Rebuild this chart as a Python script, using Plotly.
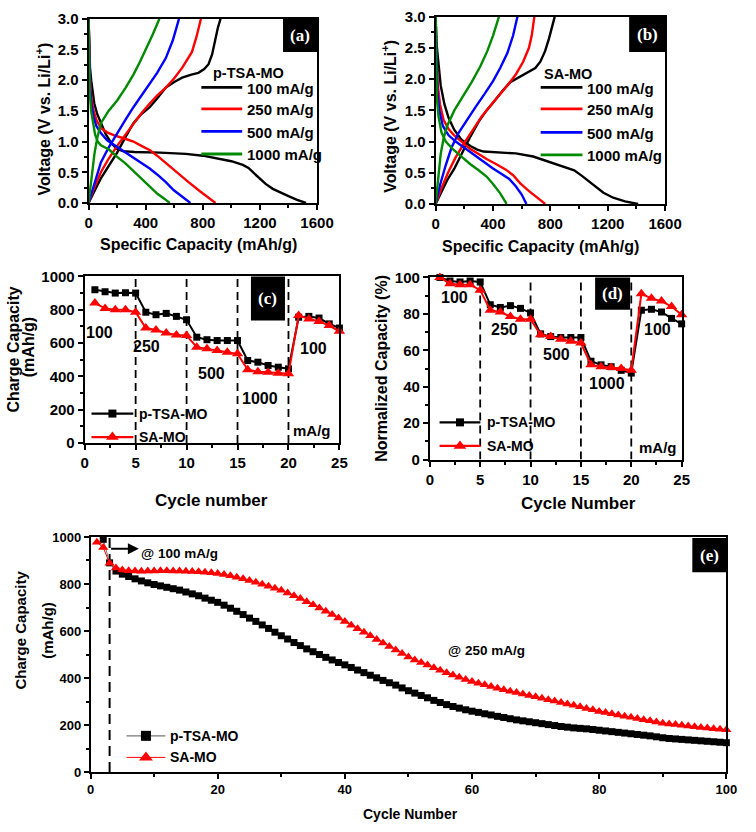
import plotly.graph_objects as go

W, H = 756, 832
def PX(x): return x / W
def PY(y): return 1 - y / H

FONT = "Liberation Sans, Arial, Helvetica, sans-serif"
SERIF = "Liberation Serif, Times New Roman, serif"

# ---------------- data ----------------
rate_labels = ["100 mA/g", "250 mA/g", "500 mA/g", "1000 mA/g"]

# panel (a) p-TSA-MO : discharge / charge profiles (capacity mAh/g, voltage V)
a_dis_100_cap = [0, 4, 10, 18, 28, 40, 60, 86, 120, 160, 200, 240, 320, 500, 680, 800, 900, 1000, 1080, 1120, 1160, 1200, 1240, 1290, 1340, 1400, 1460, 1523]
a_dis_100_v   = [3.0, 2.6, 2.2, 2.0, 1.8, 1.62, 1.45, 1.30, 1.12, 0.97, 0.88, 0.845, 0.83, 0.82, 0.80, 0.77, 0.73, 0.68, 0.62, 0.57, 0.48, 0.39, 0.31, 0.23, 0.17, 0.11, 0.05, 0.0]
a_ch_100_cap  = [0, 30, 60, 86, 140, 200, 260, 314, 370, 428, 480, 541, 600, 655, 720, 769, 810, 840, 865, 883, 905, 924]
a_ch_100_v    = [0.0, 0.15, 0.28, 0.40, 0.60, 0.82, 1.08, 1.30, 1.45, 1.56, 1.70, 1.88, 1.97, 2.04, 2.09, 2.12, 2.18, 2.26, 2.42, 2.62, 2.85, 3.0]

a_dis_250_cap = [0, 4, 10, 20, 35, 55, 86, 130, 180, 250, 314, 370, 430, 480, 530, 590, 640, 700, 780, 830, 889]
a_dis_250_v   = [3.0, 2.5, 2.0, 1.7, 1.5, 1.35, 1.22, 1.15, 1.10, 1.05, 1.00, 0.93, 0.86, 0.77, 0.67, 0.55, 0.45, 0.34, 0.19, 0.10, 0.0]
a_ch_250_cap  = [0, 40, 86, 140, 200, 260, 314, 370, 428, 480, 541, 600, 655, 700, 724, 755, 787]
a_ch_250_v    = [0.0, 0.25, 0.50, 0.72, 0.93, 1.12, 1.30, 1.46, 1.62, 1.75, 1.88, 2.03, 2.20, 2.36, 2.46, 2.70, 3.0]

a_dis_500_cap = [0, 4, 10, 20, 35, 55, 86, 130, 188, 250, 314, 369, 428, 482, 541, 595, 655, 713]
a_dis_500_v   = [3.0, 2.4, 1.9, 1.6, 1.4, 1.25, 1.14, 1.02, 0.93, 0.84, 0.74, 0.66, 0.56, 0.46, 0.34, 0.21, 0.10, 0.0]
a_ch_500_cap  = [0, 40, 86, 140, 200, 260, 314, 370, 428, 480, 541, 590, 633]
a_ch_500_v    = [0.0, 0.32, 0.66, 0.90, 1.14, 1.36, 1.56, 1.75, 1.93, 2.12, 2.36, 2.65, 3.0]

a_dis_1000_cap = [0, 3, 8, 18, 30, 45, 64, 86, 143, 200, 256, 314, 369, 428, 482, 530, 568]
a_dis_1000_v   = [3.0, 2.3, 1.8, 1.5, 1.3, 1.12, 1.0, 0.94, 0.87, 0.75, 0.65, 0.52, 0.41, 0.28, 0.15, 0.07, 0.0]
a_ch_1000_cap  = [0, 20, 41, 60, 86, 140, 200, 260, 314, 360, 405, 450, 496]
a_ch_1000_v    = [0.0, 0.4, 0.8, 1.05, 1.30, 1.50, 1.67, 1.88, 2.09, 2.30, 2.52, 2.75, 3.0]

# panel (b) SA-MO
b_dis_100_cap = [0, 5, 16, 35, 61, 90, 129, 180, 242, 290, 333, 450, 559, 680, 785, 880, 966, 1020, 1102, 1170, 1238, 1320, 1412]
b_dis_100_v   = [3.0, 2.6, 2.34, 1.9, 1.6, 1.38, 1.19, 1.03, 0.93, 0.87, 0.84, 0.82, 0.81, 0.76, 0.68, 0.60, 0.54, 0.45, 0.30, 0.18, 0.10, 0.04, 0.0]
b_ch_100_cap  = [0, 40, 80, 129, 180, 242, 300, 355, 410, 468, 520, 582, 640, 695, 730, 763, 790, 808, 830]
b_ch_100_v    = [0.0, 0.2, 0.38, 0.56, 0.80, 1.08, 1.32, 1.50, 1.65, 1.82, 1.95, 2.03, 2.10, 2.18, 2.28, 2.45, 2.65, 2.81, 3.0]

b_dis_250_cap = [0, 5, 15, 30, 55, 90, 129, 180, 242, 300, 355, 420, 490, 540, 590, 649, 700, 764]
b_dis_250_v   = [3.0, 2.4, 1.9, 1.6, 1.35, 1.2, 1.1, 1.0, 0.88, 0.80, 0.72, 0.64, 0.55, 0.46, 0.33, 0.21, 0.11, 0.0]
b_ch_250_cap  = [0, 40, 86, 140, 200, 260, 320, 380, 440, 500, 560, 610, 650, 670, 688]
b_ch_250_v    = [0.0, 0.25, 0.50, 0.75, 0.98, 1.2, 1.4, 1.57, 1.73, 1.9, 2.08, 2.28, 2.5, 2.7, 3.0]

b_dis_500_cap = [0, 4, 12, 25, 50, 90, 140, 200, 260, 330, 400, 460, 513, 560, 600, 633]
b_dis_500_v   = [3.0, 2.3, 1.8, 1.5, 1.25, 1.1, 1.0, 0.90, 0.80, 0.68, 0.57, 0.48, 0.40, 0.28, 0.15, 0.0]
b_ch_500_cap  = [0, 30, 70, 110, 160, 220, 280, 340, 400, 450, 500, 540, 570]
b_ch_500_v    = [0.0, 0.3, 0.62, 0.9, 1.14, 1.36, 1.56, 1.76, 1.97, 2.18, 2.42, 2.7, 3.0]

b_dis_1000_cap = [0, 3, 8, 20, 40, 70, 120, 180, 240, 300, 355, 400, 450, 495]
b_dis_1000_v   = [3.0, 2.2, 1.7, 1.4, 1.15, 1.0, 0.88, 0.76, 0.64, 0.54, 0.44, 0.32, 0.17, 0.0]
b_ch_1000_cap  = [0, 15, 35, 55, 80, 130, 190, 250, 310, 360, 400, 441]
b_ch_1000_v    = [0.0, 0.4, 0.8, 1.05, 1.25, 1.5, 1.72, 1.95, 2.2, 2.45, 2.7, 3.0]

# panels (c), (d): rate capability
cycles_rate = [1, 2, 3, 4, 5, 6, 7, 8, 9, 10, 11, 12, 13, 14, 15, 16, 17, 18, 19, 20, 21, 22, 23, 24, 25]
c_ptsa = [920, 908, 900, 902, 900, 785, 770, 778, 760, 740, 635, 620, 615, 615, 615, 495, 485, 465, 455, 445, 755, 760, 750, 715, 690]
c_sa   = [840, 808, 800, 800, 785, 690, 678, 660, 648, 645, 575, 565, 555, 545, 535, 440, 428, 425, 418, 415, 765, 745, 730, 705, 670]
d_ptsa = [100, 98, 97.5, 98, 97.5, 85, 83.5, 84.5, 83, 80.5, 69, 67.5, 67, 67, 67, 54, 52, 51, 49, 47.5, 82, 82.5, 81, 77.5, 74.5]
d_sa   = [100, 96.5, 96, 96, 93, 82, 81, 78.5, 77, 77, 68.5, 67.5, 66, 65, 64, 52, 51, 50.5, 50, 49, 91, 88.5, 87, 84, 79.5]
rate_change_cycles = [5, 10, 15, 20]
rate_step_labels = ["100", "250", "500", "1000", "100"]

# panel (e): long cycling
e_ptsa_cycles = list(range(2, 101))
e_ptsa = [990, 890, 855, 842, 832, 822, 813, 805, 798, 792, 786, 780, 774, 766, 758, 750, 740, 731, 722,
          710, 697, 684, 670, 655, 641, 626, 611, 595, 580, 566, 551, 538, 524, 512, 500, 488, 477, 466, 456,
          445, 434, 423, 412, 401, 390, 380, 370, 358, 346, 336, 326, 316, 305, 296, 287, 279, 272, 265, 259,
          254, 248, 243, 237, 232, 227, 222, 218, 214, 210, 206, 202, 198, 194, 191, 188, 186, 184, 181, 178,
          175, 172, 169, 166, 163, 160, 157, 154, 150, 146, 143, 141, 139, 137, 135, 133, 131, 129, 127, 125]
e_sa_cycles = list(range(1, 101))
e_sa = [978, 955, 888, 868, 860, 856, 855, 854, 855, 855, 856, 856, 855, 855, 854, 853, 852, 850, 848, 845,
        840, 835, 829, 822, 815, 807, 799, 791, 782, 773, 762, 750, 738, 725, 712, 698, 684, 670, 655, 640,
        625, 610, 595, 580, 564, 549, 534, 519, 504, 489, 477, 466, 455, 444, 433, 423, 413, 403, 394, 385,
        378, 371, 364, 357, 350, 344, 338, 332, 326, 320, 314, 308, 302, 296, 290, 284, 278, 271, 265, 258,
        253, 248, 243, 238, 233, 228, 223, 218, 213, 208, 205, 202, 199, 196, 193, 190, 187, 184, 182, 180]
e_dash_cycle = 3

# ---------------- figure ----------------
colors4 = ["#000000", "#ff0000", "#0000ff", "#008a00"]
fig = go.Figure()

def add_profiles(xa, ya, sets):
    for (dc, dv, cc, cv), col in zip(sets, colors4):
        fig.add_trace(go.Scatter(x=dc + [None] + cc, y=dv + [None] + cv, mode="lines",
                                 line=dict(color=col, width=2.4), xaxis=xa, yaxis=ya,
                                 showlegend=False, hoverinfo="skip"))

add_profiles("x", "y", [(a_dis_100_cap, a_dis_100_v, a_ch_100_cap, a_ch_100_v),
                        (a_dis_250_cap, a_dis_250_v, a_ch_250_cap, a_ch_250_v),
                        (a_dis_500_cap, a_dis_500_v, a_ch_500_cap, a_ch_500_v),
                        (a_dis_1000_cap, a_dis_1000_v, a_ch_1000_cap, a_ch_1000_v)])
add_profiles("x2", "y2", [(b_dis_100_cap, b_dis_100_v, b_ch_100_cap, b_ch_100_v),
                          (b_dis_250_cap, b_dis_250_v, b_ch_250_cap, b_ch_250_v),
                          (b_dis_500_cap, b_dis_500_v, b_ch_500_cap, b_ch_500_v),
                          (b_dis_1000_cap, b_dis_1000_v, b_ch_1000_cap, b_ch_1000_v)])

for xa, ya, yb, ys in [("x3", "y3", c_ptsa, c_sa), ("x4", "y4", d_ptsa, d_sa)]:
    fig.add_trace(go.Scatter(x=cycles_rate, y=yb, mode="lines+markers", xaxis=xa, yaxis=ya,
                             line=dict(color="black", width=2), marker=dict(symbol="square", size=7, color="black"),
                             cliponaxis=False, showlegend=False))
    fig.add_trace(go.Scatter(x=cycles_rate, y=ys, mode="lines+markers", xaxis=xa, yaxis=ya,
                             line=dict(color="red", width=2), marker=dict(symbol="triangle-up", size=10, color="red"),
                             cliponaxis=False, showlegend=False))

fig.add_trace(go.Scatter(x=e_ptsa_cycles, y=e_ptsa, mode="lines+markers", xaxis="x5", yaxis="y5",
                         line=dict(color="#777777", width=1), marker=dict(symbol="square", size=7, color="black"),
                         cliponaxis=False, showlegend=False))
fig.add_trace(go.Scatter(x=e_sa_cycles, y=e_sa, mode="lines+markers", xaxis="x5", yaxis="y5",
                         line=dict(color="red", width=1), marker=dict(symbol="triangle-up", size=9, color="red"),
                         cliponaxis=False, showlegend=False))

# legend samples (overlay pixel axis)
def leg_sample(x0, x1, y, lcol, lw, sym, msize, mcol):
    fig.add_trace(go.Scatter(x=[x0, x1], y=[y, y], mode="lines", line=dict(color=lcol, width=lw),
                             xaxis="x6", yaxis="y6", showlegend=False, hoverinfo="skip"))
    fig.add_trace(go.Scatter(x=[(x0 + x1) / 2], y=[y], mode="markers",
                             marker=dict(symbol=sym, size=msize, color=mcol),
                             xaxis="x6", yaxis="y6", showlegend=False, hoverinfo="skip", cliponaxis=False))

leg_sample(90, 133, 413, "black", 2.2, "square", 8, "black")
leg_sample(90, 133, 437, "red", 2.2, "triangle-up", 11, "red")
leg_sample(448, 490, 422, "black", 2.2, "square", 8, "black")
leg_sample(448, 490, 446, "red", 2.2, "triangle-up", 11, "red")
leg_sample(126, 166, 742, "#777777", 1.2, "square", 10, "black")
leg_sample(126, 166, 764, "red", 1, "triangle-up", 12, "red")

def axis(dom, rng, dtick, minor, anchor, size=15, lw=2, fmt=None):
    d = dict(domain=dom, range=rng, dtick=dtick, anchor=anchor, showline=True, linecolor="black",
             linewidth=lw, mirror=True, ticks="outside", ticklen=5, tickwidth=lw, tickcolor="black",
             minor=dict(ticks="outside", ticklen=3, dtick=minor, tickcolor="black", tickwidth=lw),
             showgrid=False, zeroline=False,
             tickfont=dict(family=FONT, size=size, color="black", weight="bold"))
    if fmt:
        d["tickformat"] = fmt
    return d

fig.update_layout(
    width=W, height=H, margin=dict(l=0, r=0, t=0, b=0),
    paper_bgcolor="white", plot_bgcolor="rgba(0,0,0,0)", showlegend=False,
    xaxis=axis([PX(87), PX(322)], [0, 1600], 400, 200, "y"),
    yaxis=axis([PY(198), PY(10)], [0, 3], 0.5, 0.25, "x", fmt=".1f"),
    xaxis2=axis([PX(444), PX(680)], [0, 1600], 400, 200, "y2"),
    yaxis2=axis([PY(199), PY(8)], [0, 3], 0.5, 0.25, "x2", fmt=".1f"),
    xaxis3=axis([PX(83), PX(345)], [0, 25], 5, 2.5, "y3"),
    yaxis3=axis([PY(443), PY(273)], [0, 1000], 200, 100, "x3"),
    xaxis4=axis([PX(438), PX(697)], [0, 25], 5, 2.5, "y4"),
    yaxis4=axis([PY(460), PY(274)], [0, 100], 20, 10, "x4"),
    xaxis5=axis([PX(89), PX(743)], [0, 100], 20, 10, "y5", size=13, lw=1.5),
    yaxis5=axis([PY(779), PY(539)], [0, 1000], 200, 100, "x5", size=13, lw=1.5),
    xaxis6=dict(domain=[0, 1], range=[0, W], visible=False, anchor="y6", fixedrange=True),
    yaxis6=dict(domain=[0, 1], range=[H, 0], visible=False, anchor="x6", fixedrange=True),
)

shapes = []
ann = []

def text(x, y, s, size=15, xanchor="center", angle=0, color="black", family=FONT):
    ann.append(dict(x=PX(x), y=PY(y), xref="paper", yref="paper", text=s, showarrow=False,
                    xanchor=xanchor, yanchor="middle", textangle=angle,
                    font=dict(family=family, size=size, color=color, weight="bold")))

def box(x0, y0, x1, y1, label):
    shapes.append(dict(type="rect", xref="paper", yref="paper", x0=PX(x0), x1=PX(x1), y0=PY(y1), y1=PY(y0),
                       fillcolor="black", line=dict(width=0), layer="above"))
    text((x0 + x1) / 2, (y0 + y1) / 2, label, size=17, color="white", family=SERIF)

def pline(x0, x1, y, col, w=2.8):
    shapes.append(dict(type="line", xref="paper", yref="paper", x0=PX(x0), x1=PX(x1), y0=PY(y), y1=PY(y),
                       line=dict(color=col, width=w)))

# panel label boxes
box(287, 10, 322, 44, "(a)")
box(643, 8, 680, 44, "(b)")
box(254, 273, 289, 318, "(c)")
box(608, 274, 644, 307, "(d)")
box(708, 540, 743, 575, "(e)")

# legends (a), (b)
text(213, 65, "p-TSA-MO", 14.5, "left")
for i, (lab, col) in enumerate(zip(rate_labels, colors4)):
    yy = [81, 103, 126, 149][i]
    pline(203, 245, yy - 1, col)
    text(248, yy, lab, 15, "left")
text(553, 66, "SA-MO", 14.5, "left")
for i, (lab, col) in enumerate(zip(rate_labels, colors4)):
    yy = [81, 103, 127, 150][i]
    pline(552, 595, yy - 1, col)
    text(598, yy, lab, 15, "left")

# legends (c), (d), (e)
text(137, 413, "p-TSA-MO", 14, "left"); text(137, 437, "SA-MO", 14, "left")
text(495, 422, "p-TSA-MO", 14, "left"); text(495, 446, "SA-MO", 14, "left")
text(169, 742, "p-TSA-MO", 14, "left"); text(169, 764, "SA-MO", 14, "left")

# dashed rate-change lines
for xa, ya, top in [("x3", "y3", 1000), ("x4", "y4", 100)]:
    for cyc in rate_change_cycles:
        shapes.append(dict(type="line", xref=xa, yref=ya, x0=cyc, x1=cyc, y0=0, y1=top,
                           line=dict(color="black", width=1.8, dash="8px,5px"), layer="below"))
shapes.append(dict(type="line", xref="x5", yref="y5", x0=e_dash_cycle, x1=e_dash_cycle, y0=0, y1=1000,
                   line=dict(color="black", width=2, dash="10px,6px"), layer="below"))

# rate step labels
for (x, y), s in zip([(98, 330), (147, 345), (213, 372), (263, 398), (318, 347)], rate_step_labels):
    text(x, y, s, 16)
text(317, 430, "mA/g", 15)
for (x, y), s in zip([(463, 295), (515, 327), (568, 353), (620, 382), (672, 327)], rate_step_labels):
    text(x, y, s, 16)
text(673, 448, "mA/g", 15)

# panel (e) annotations
ann.append(dict(x=7.6, y=950, ax=e_dash_cycle, ay=950, xref="x5", yref="y5", axref="x5", ayref="y5",
                text="", showarrow=True, arrowhead=2, arrowsize=1.1, arrowwidth=2, arrowcolor="black"))
text(139, 556, "@ 100 mA/g", 13.5, "left")
text(455, 655, "@ 250 mA/g", 13.5, "left")

# axis titles
text(200, 240, "Specific Capacity (mAh/g)", 16)
text(552, 242, "Specific Capacity (mAh/g)", 16)
text(40, 112, "Voltage (V vs. Li/Li<sup>+</sup>)", 16, angle=-90)
text(396, 110, "Voltage (V vs. Li/Li<sup>+</sup>)", 16, angle=-90)
text(213, 502, "Cycle number", 17)
text(10, 348, "Charge Capacity", 16, angle=-90)
text(26, 345, "(mAh/g)", 16, angle=-90)
text(591, 505, "Cycle Number", 17)
text(388, 367, "Normalized Capacity (%)", 16, angle=-90)
text(418, 822, "Cycle Number", 14)
text(17, 634, "Charge Capacity", 15, angle=-90)
text(44, 634, "(mAh/g)", 15, angle=-90)

fig.update_layout(shapes=shapes, annotations=ann)
fig.write_html("out.html")
